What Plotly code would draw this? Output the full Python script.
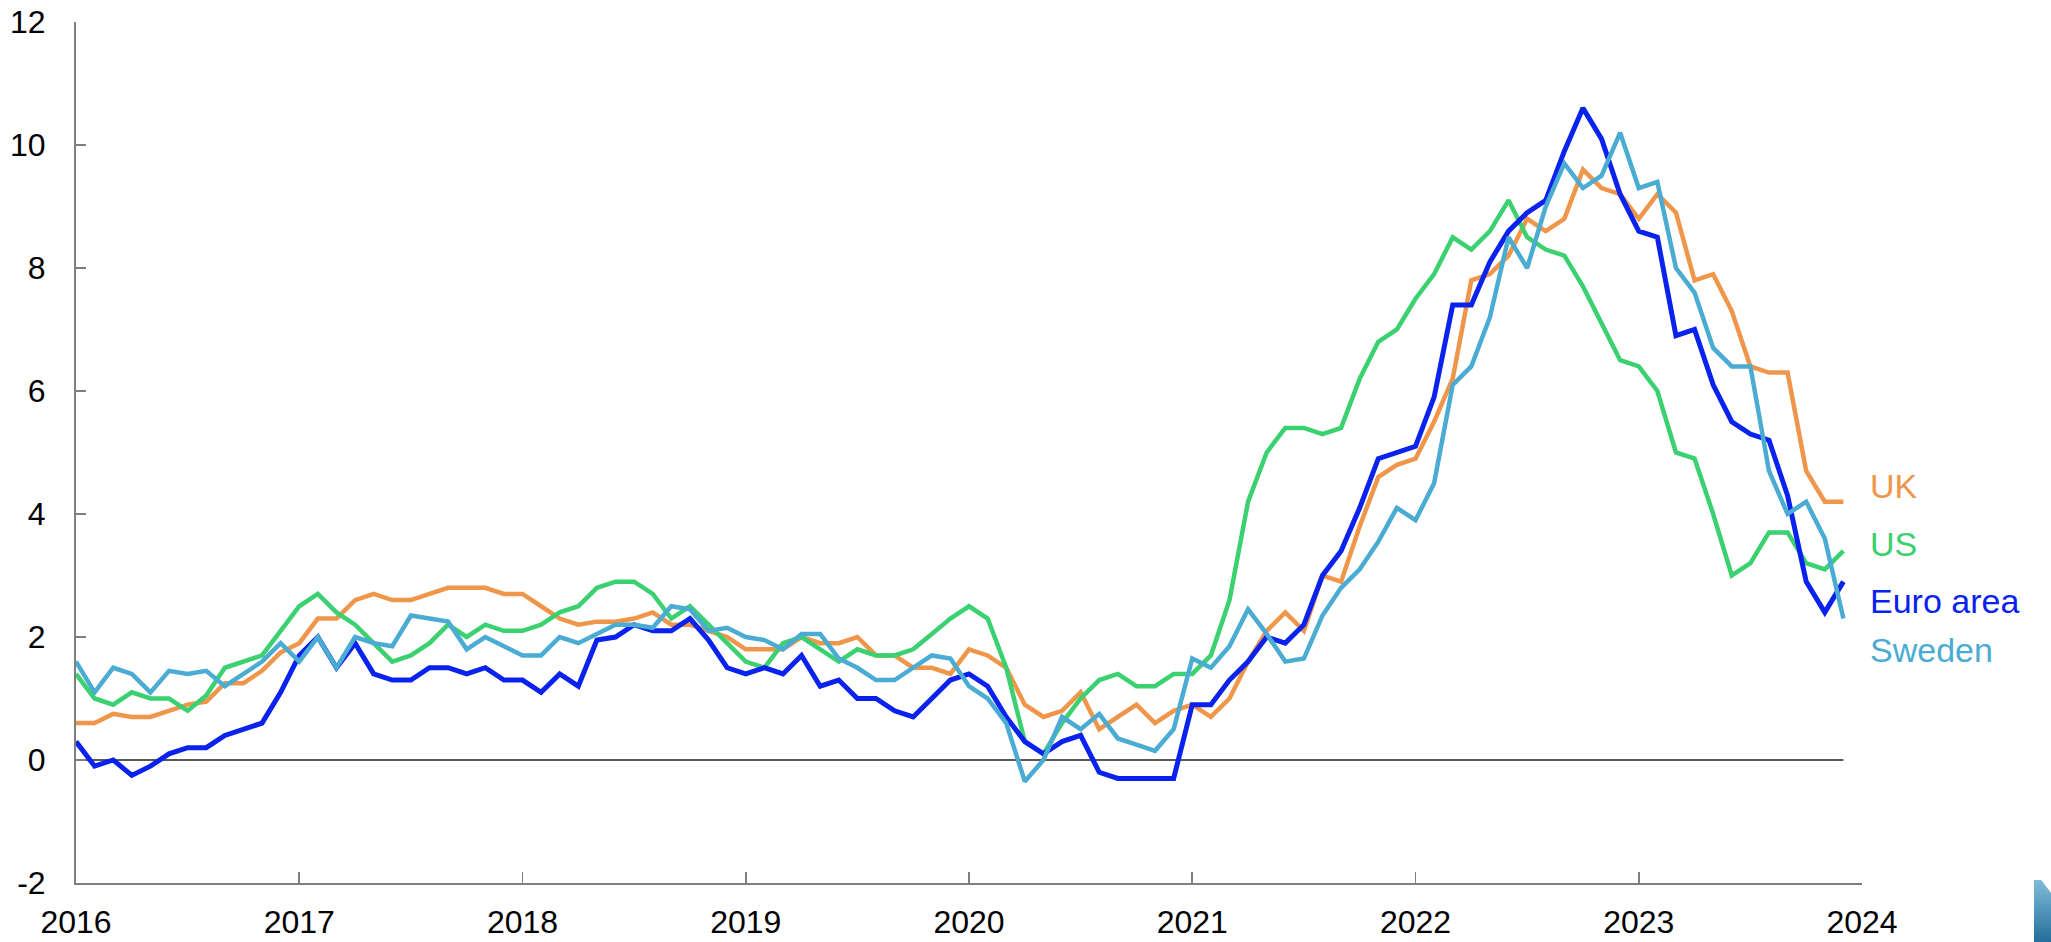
import plotly.graph_objects as go

# ---- data: monthly annual inflation (%), Jan 2016 - Dec 2023 ----
years = list(range(2016, 2024))
months = list(range(1, 13))

uk = [0.6, 0.6, 0.75, 0.7, 0.7, 0.8, 0.9, 0.95, 1.25, 1.25, 1.45, 1.75,
      1.9, 2.3, 2.3, 2.6, 2.7, 2.6, 2.6, 2.7, 2.8, 2.8, 2.8, 2.7,
      2.7, 2.5, 2.3, 2.2, 2.25, 2.25, 2.3, 2.4, 2.2, 2.2, 2.1, 2.0,
      1.8, 1.8, 1.8, 2.0, 1.9, 1.9, 2.0, 1.7, 1.7, 1.5, 1.5, 1.4,
      1.8, 1.7, 1.5, 0.9, 0.7, 0.8, 1.1, 0.5, 0.7, 0.9, 0.6, 0.8,
      0.9, 0.7, 1.0, 1.6, 2.1, 2.4, 2.1, 3.0, 2.9, 3.8, 4.6, 4.8,
      4.9, 5.5, 6.2, 7.8, 7.9, 8.2, 8.8, 8.6, 8.8, 9.6, 9.3, 9.2,
      8.8, 9.2, 8.9, 7.8, 7.9, 7.3, 6.4, 6.3, 6.3, 4.7, 4.2, 4.2]

us = [1.4, 1.0, 0.9, 1.1, 1.0, 1.0, 0.8, 1.05, 1.5, 1.6, 1.7, 2.1,
      2.5, 2.7, 2.4, 2.2, 1.9, 1.6, 1.7, 1.9, 2.2, 2.0, 2.2, 2.1,
      2.1, 2.2, 2.4, 2.5, 2.8, 2.9, 2.9, 2.7, 2.3, 2.5, 2.2, 1.9,
      1.6, 1.5, 1.9, 2.0, 1.8, 1.6, 1.8, 1.7, 1.7, 1.8, 2.05, 2.3,
      2.5, 2.3, 1.5, 0.3, 0.1, 0.6, 1.0, 1.3, 1.4, 1.2, 1.2, 1.4,
      1.4, 1.7, 2.6, 4.2, 5.0, 5.4, 5.4, 5.3, 5.4, 6.2, 6.8, 7.0,
      7.5, 7.9, 8.5, 8.3, 8.6, 9.1, 8.5, 8.3, 8.2, 7.7, 7.1, 6.5,
      6.4, 6.0, 5.0, 4.9, 4.0, 3.0, 3.2, 3.7, 3.7, 3.2, 3.1, 3.4]

euro = [0.3, -0.1, 0.0, -0.25, -0.1, 0.1, 0.2, 0.2, 0.4, 0.5, 0.6, 1.1,
        1.7, 2.0, 1.5, 1.9, 1.4, 1.3, 1.3, 1.5, 1.5, 1.4, 1.5, 1.3,
        1.3, 1.1, 1.4, 1.2, 1.95, 2.0, 2.2, 2.1, 2.1, 2.3, 1.95, 1.5,
        1.4, 1.5, 1.4, 1.7, 1.2, 1.3, 1.0, 1.0, 0.8, 0.7, 1.0, 1.3,
        1.4, 1.2, 0.7, 0.3, 0.1, 0.3, 0.4, -0.2, -0.3, -0.3, -0.3, -0.3,
        0.9, 0.9, 1.3, 1.6, 2.0, 1.9, 2.2, 3.0, 3.4, 4.1, 4.9, 5.0,
        5.1, 5.9, 7.4, 7.4, 8.1, 8.6, 8.9, 9.1, 9.9, 10.6, 10.1, 9.2,
        8.6, 8.5, 6.9, 7.0, 6.1, 5.5, 5.3, 5.2, 4.3, 2.9, 2.4, 2.9]

sweden = [1.6, 1.1, 1.5, 1.4, 1.1, 1.45, 1.4, 1.45, 1.2, 1.4, 1.6, 1.9,
          1.6, 2.0, 1.5, 2.0, 1.9, 1.85, 2.35, 2.3, 2.25, 1.8, 2.0, 1.85,
          1.7, 1.7, 2.0, 1.9, 2.05, 2.2, 2.2, 2.15, 2.5, 2.45, 2.1, 2.15,
          2.0, 1.95, 1.8, 2.05, 2.05, 1.65, 1.5, 1.3, 1.3, 1.5, 1.7, 1.65,
          1.2, 1.0, 0.6, -0.35, 0.0, 0.7, 0.5, 0.75, 0.35, 0.25, 0.15, 0.5,
          1.65, 1.5, 1.85, 2.45, 2.05, 1.6, 1.65, 2.35, 2.8, 3.1, 3.55, 4.1,
          3.9, 4.5, 6.1, 6.4, 7.2, 8.5, 8.0, 9.0, 9.7, 9.3, 9.5, 10.2,
          9.3, 9.4, 8.0, 7.6, 6.7, 6.4, 6.4, 4.7, 4.0, 4.2, 3.6, 2.3]

series_names = ["UK", "US", "Euro area", "Sweden"]
series_values = [uk, us, euro, sweden]
y_ticks = [-2, 0, 2, 4, 6, 8, 10, 12]
x_ticks = list(range(2016, 2025))

# ---- styling ----
colors = ["#F0964B", "#3BD070", "#0A22EE", "#4AACD2"]
widths = [4.5, 4.5, 5, 4.5]
label_y = [4.45, 3.51, 2.58, 1.79]
FONT = "Liberation Sans, Arial, Helvetica, sans-serif"

W, H = 2051, 942
ML, MR, MT, MB = 76, 189, 22, 59
PW, PH = W - ML - MR, H - MT - MB

x = [y + (m - 1) / 12 for y in years for m in months]

fig = go.Figure()
for name, vals, col, w in zip(series_names, series_values, colors, widths):
    fig.add_trace(go.Scatter(x=x, y=vals, mode="lines", name=name,
                             line=dict(color=col, width=w),
                             showlegend=False, hoverinfo="skip"))

# zero line
fig.add_shape(type="line", xref="x", yref="y", x0=x[0], x1=x[-1], y0=0, y1=0,
              line=dict(color="#222222", width=1.6), layer="below")

# end labels
for name, col, ly in zip(series_names, colors, label_y):
    fig.add_annotation(x=x_ticks[-1], y=ly, xref="x", yref="y", text=name,
                       showarrow=False, xanchor="left", yanchor="middle",
                       xshift=6, font=dict(family=FONT, size=34, color=col))

# small corner logo fragment
svg = ("data:image/svg+xml;utf8,<svg xmlns='http://www.w3.org/2000/svg' width='20' height='62' "
       "viewBox='0 0 20 62' preserveAspectRatio='none'>"
       "<defs><linearGradient id='g' x1='0' y1='0' x2='0' y2='1'>"
       "<stop offset='0' stop-color='%2380BCD8'/><stop offset='1' stop-color='%23236E9C'/>"
       "</linearGradient></defs><path d='M0 0 L8 0 L20 14 L20 62 L0 62 Z' fill='url(%23g)'/></svg>")
fig.add_layout_image(source=svg, xref="paper", yref="paper",
                     x=(2034 - ML) / PW, y=(H - MB - 880) / PH,
                     sizex=18 / PW, sizey=62 / PH,
                     xanchor="left", yanchor="top", sizing="stretch", layer="above")

axis_common = dict(showgrid=False, zeroline=False, showline=True, automargin=False,
                   linecolor="#7F7F7F", ticks="inside", tickcolor="#7F7F7F",
                   ticklabeloverflow="allow",
                   tickfont=dict(family=FONT, size=32, color="#000000"))

fig.update_xaxes(range=[x_ticks[0], x_ticks[-1]], tickvals=x_ticks,
                 ticktext=[str(t) for t in x_ticks], linewidth=1.6,
                 ticklen=11, tickwidth=1.6, ticklabelstandoff=10, **axis_common)
fig.update_yaxes(range=[y_ticks[0], y_ticks[-1]], tickvals=y_ticks,
                 ticktext=[str(t) for t in y_ticks], linewidth=2,
                 ticklen=10, tickwidth=2, ticklabelstandoff=22, **axis_common)

fig.update_layout(width=W, height=H, autosize=False,
                  margin=dict(l=ML, r=MR, t=MT, b=MB, pad=0, autoexpand=False),
                  paper_bgcolor="white", plot_bgcolor="white",
                  font=dict(family=FONT))

# remove the default 8px page margin so the figure fills the window exactly
fig.write_html("out.html",
               config={"displayModeBar": False, "staticPlot": True},
               post_script="document.body.style.margin='0';document.body.style.overflow='hidden';")
